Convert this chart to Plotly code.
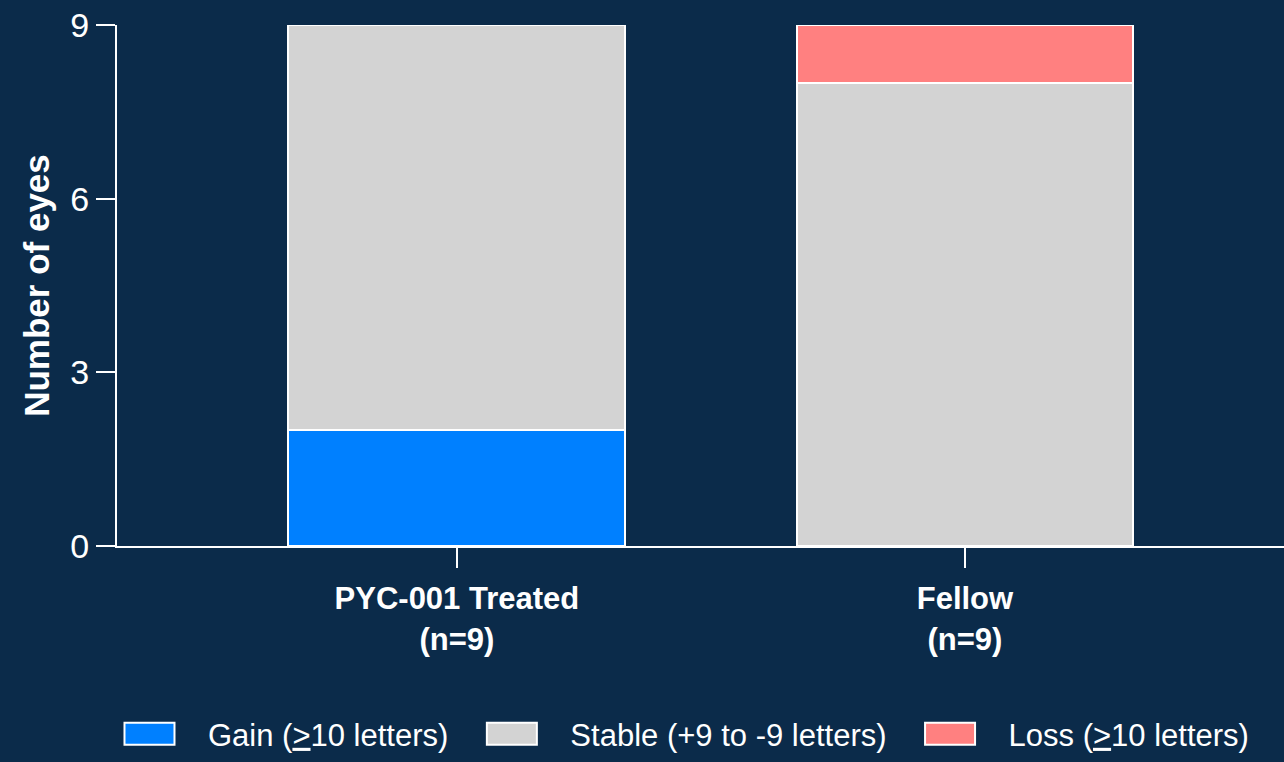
import plotly.graph_objects as go

categories = ["<b>PYC-001 Treated</b><br><b>(n=9)</b>", "<b>Fellow</b><br><b>(n=9)</b>"]
gain = [2, 0]
stable = [7, 8]
loss = [0, 1]
series_names = ["Gain (<u>></u>10 letters)", "Stable (+9 to -9 letters)", "Loss (<u>></u>10 letters)"]
series_colors = ["#0080FF", "#D3D3D3", "#FF8080"]
y_ticks = [0, 3, 6, 9]

BG = "#0B2B4A"
FONT = "Liberation Sans, Arial, sans-serif"

fig = go.Figure()
for name, vals, col in zip(series_names, [gain, stable, loss], series_colors):
    fig.add_trace(go.Bar(
        x=categories, y=vals, name=name,
        marker=dict(color=col, line=dict(color="white", width=2)),
        width=0.663,
    ))

fig.update_layout(
    barmode="stack",
    width=1284, height=762,
    paper_bgcolor=BG, plot_bgcolor=BG,
    margin=dict(l=117, r=0, t=25, b=216),
    font=dict(family=FONT, color="white", size=24),
    showlegend=True,
    legend=dict(orientation="h", x=0.476, xanchor="center", y=-0.361, yanchor="middle",
                font=dict(size=31), bgcolor="rgba(0,0,0,0)", itemwidth=107,
                traceorder="normal"),
)
fig.update_xaxes(
    range=[-0.669, 1.628],
    showline=True, linecolor="white", linewidth=2,
    ticks="outside", ticklen=20, tickwidth=2, tickcolor="white",
    ticklabelstandoff=4,
    tickfont=dict(size=31, family=FONT), showgrid=False, zeroline=False,
)
fig.update_yaxes(
    range=[0, 9], tickvals=y_ticks,
    showline=True, linecolor="white", linewidth=2,
    ticks="outside", ticklen=19, tickwidth=2, tickcolor="white",
    tickfont=dict(size=34), showgrid=False, zeroline=False,
    title=dict(text="<b>Number of eyes</b>", font=dict(size=35), standoff=10),
)

post = """
document.body.style.margin = '0';
document.body.style.background = '%s';
var gd = document.getElementById('{plot_id}');
function fixLegend() {
  document.querySelectorAll('g.legend g.legendpoints path').forEach(function(p) {
    p.setAttribute('d', 'M25,11H-25V-11H25Z');
  });
}
fixLegend();
setTimeout(fixLegend, 50);
setTimeout(fixLegend, 300);
if (gd && gd.on) { gd.on('plotly_afterplot', fixLegend); }
""" % BG

fig.write_html("out.html", post_script=post, config={"displayModeBar": False})
